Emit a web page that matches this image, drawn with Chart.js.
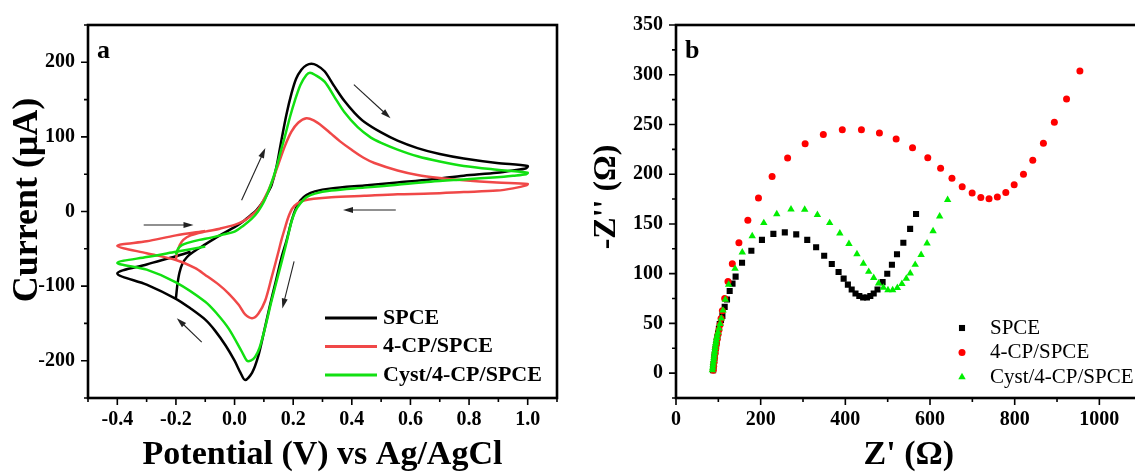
<!DOCTYPE html>
<html>
<head>
<meta charset="utf-8">
<script src="https://cdn.jsdelivr.net/npm/chart.js@4.4.0/dist/chart.umd.min.js"></script>
<style>
  html, body { margin: 0; padding: 0; background: #fff; }
  body { width: 1135px; height: 472px; overflow: hidden; position: relative; }
  #cv { position: absolute; left: 0; top: 0; }
  #eis { position: absolute; left: 580px; top: 0; }
</style>
</head>
<body>
<canvas id="cv" width="575" height="472"></canvas>
<canvas id="eis" width="566" height="472"></canvas>
<script>
const seriesNames = ["SPCE", "4-CP/SPCE", "Cyst/4-CP/SPCE"];

// panel a: cyclic voltammograms, potential (V) and current (uA)
const spceV = [-0.2, -0.195, -0.188, -0.178, -0.162, -0.14, -0.1, -0.05, 0, 0.03, 0.055, 0.075, 0.095, 0.112, 0.126, 0.143, 0.16, 0.177, 0.194, 0.21, 0.228, 0.245, 0.262, 0.28, 0.307, 0.34, 0.375, 0.41, 0.443, 0.5, 0.556, 0.624, 0.7, 0.782, 0.895, 1.0,
  0.995, 0.95, 0.895, 0.782, 0.669, 0.556, 0.443, 0.33, 0.274, 0.245, 0.225, 0.21, 0.195, 0.178, 0.16, 0.138, 0.12, 0.1, 0.08, 0.06, 0.036, 0.02, 0, -0.03, -0.066, -0.1, -0.15, -0.2, -0.3, -0.4,
  -0.3, -0.2, -0.15];
const spceI = [-116, -98, -82, -70, -61, -54, -44, -32, -21, -13, -5, 2, 12, 24, 35, 60, 96, 130, 158, 178, 190, 196, 198, 196, 188, 168, 148, 132, 120, 106, 95, 85, 77, 71, 65, 61,
  58, 55, 52, 48, 43, 39, 35, 31, 27, 22, 15, 5, -12, -38, -62, -98, -127, -162, -195, -216, -226, -216, -200, -180, -160, -145, -130, -117, -98, -83,
  -71, -60, -54];

const cpV = [-0.2, -0.195, -0.187, -0.175, -0.15, -0.1, -0.05, 0, 0.03, 0.055, 0.08, 0.104, 0.126, 0.15, 0.172, 0.194, 0.217, 0.245, 0.27, 0.3, 0.33, 0.36, 0.398, 0.44, 0.477, 0.556, 0.624, 0.7, 0.782, 0.895, 1.0,
  0.995, 0.95, 0.895, 0.782, 0.669, 0.556, 0.443, 0.33, 0.27, 0.24, 0.215, 0.197, 0.183, 0.172, 0.16, 0.149, 0.126, 0.104, 0.081, 0.06, 0.036, 0.014, -0.02, -0.054, -0.1, -0.134, -0.2, -0.3, -0.4,
  -0.3, -0.2, -0.1];
const cpI = [-64, -54, -45, -38, -32, -27, -23, -18, -13, -6, 3, 19, 38, 64, 88, 107, 119, 125, 122, 114, 104, 94, 83, 72, 65, 55, 49, 45, 42, 39, 37,
  35, 31, 28, 26, 24, 23, 21, 19, 17, 15, 11, 4, -8, -22, -38, -55, -89, -120, -137, -143, -138, -125, -110, -98, -85, -76, -65, -56, -46,
  -40, -32, -26];

const cystV = [-0.2, -0.193, -0.18, -0.16, -0.12, -0.08, -0.04, 0, 0.03, 0.058, 0.08, 0.1, 0.12, 0.14, 0.157, 0.172, 0.19, 0.206, 0.225, 0.245, 0.257, 0.275, 0.307, 0.34, 0.375, 0.42, 0.465, 0.5, 0.556, 0.624, 0.7, 0.782, 0.895, 1.0,
  0.995, 0.95, 0.895, 0.782, 0.669, 0.556, 0.443, 0.33, 0.274, 0.245, 0.225, 0.208, 0.194, 0.172, 0.149, 0.126, 0.104, 0.085, 0.07, 0.055, 0.042, 0.025, -0.02, -0.06, -0.1, -0.2, -0.3, -0.4,
  -0.3, -0.2, -0.1];
const cystI = [-58, -50, -45, -42, -38, -35, -31, -27, -19, -10, 0, 13, 32, 55, 80, 101, 128, 149, 170, 183, 186, 183, 174, 154, 133, 113, 99, 92, 83, 74, 67, 61, 56, 52,
  50, 48, 46, 43, 40, 36, 32, 28, 24, 19, 11, 1, -14, -50, -85, -120, -156, -183, -195, -200, -200, -188, -157, -137, -121, -95, -78, -69,
  -61, -54, -47];

const cvXTicks = [-0.4, -0.2, 0.0, 0.2, 0.4, 0.6, 0.8, 1.0];
const cvYTicks = [-200, -100, 0, 100, 200];
// scan direction arrows [x1, y1, x2, y2] in data units
const cvArrows = [[-0.31, -18, -0.14, -18], [0.024, 15, 0.105, 85], [0.407, 170, 0.532, 125],
  [0.55, 2, 0.37, 2], [0.203, -67, 0.163, -130], [-0.112, -175, -0.197, -143]];

// panel b: Nyquist plots, Z' and -Z'' (ohm)
const spceRe = [87.6, 88.3, 89, 89.8, 90.6, 91.5, 92.5, 93.6, 94.8, 96.2, 97.7, 99.3, 101.3, 103.3, 106.3, 109.6, 115, 120.5, 126.8, 133.5, 140.8, 156, 178, 203, 230, 257, 284, 310, 331, 350, 368, 384, 396, 406, 415, 424, 433, 442, 451, 459, 467, 476, 488, 499, 510, 522, 537, 553, 567];
const spceIm = [3, 6, 9, 12, 15, 18, 21.5, 25, 28.5, 32, 36, 40, 44.5, 49.4, 53.5, 57.6, 66.6, 74, 82.5, 90, 97, 111, 123, 134, 140, 141.5, 139.5, 134, 126.5, 118, 109.7, 101.7, 95, 89, 84, 80, 77.5, 76, 76, 77.5, 80, 84, 91.5, 100, 109, 119.5, 131, 145, 160];
const cpRe = [88, 89, 90, 91.2, 92.5, 94, 95.5, 97.2, 99.4, 101.6, 104, 106.5, 109.5, 115, 122.8, 133, 148.6, 169.7, 194.8, 227, 263.6, 305, 348, 392.8, 438, 480.5, 520, 558.7, 594.7, 625, 651.8, 676, 699.5, 720, 739.4, 759, 779, 798.8, 820.7, 842.7, 867.8, 893.7, 922.5, 954];
const cpIm = [3, 7, 11, 15.5, 20, 24.5, 29, 34, 39, 43.5, 48.7, 55, 62.6, 75, 92, 110, 131, 153.7, 176, 197.8, 216.3, 230.5, 239.8, 244.7, 244.7, 241.4, 235.4, 226.5, 216.6, 206, 196, 187.5, 181.2, 176.6, 175.3, 177, 181.6, 189.5, 200, 214, 231, 252.3, 275.5, 303.7];
const cystRe = [86, 86.7, 87.4, 88.1, 88.8, 89.5, 90.2, 90.9, 91.6, 92.4, 93.2, 94.1, 95.1, 96.2, 97.5, 99.2, 101.5, 104, 107, 111, 116.6, 124.4, 139.5, 156.5, 180, 207.4, 238, 271.6, 304, 334, 363, 387, 408.5, 427.4, 442.6, 455.2, 467, 478.6, 489.9, 500.7, 511.7, 522.8, 533.6, 544, 553.3, 565, 579, 593, 607.2, 622.8, 641.6];
const cystIm = [3, 5.5, 8, 10.5, 13, 15.5, 18, 20.5, 23, 25.5, 28, 30.5, 33, 35.5, 38, 41, 45, 49.5, 55, 63, 74, 89, 105, 121.5, 137.8, 151, 160, 164.7, 164.5, 159.2, 151, 140.6, 130, 119.6, 110.2, 102, 95.8, 90.3, 86, 83.5, 83.5, 85.8, 89.8, 95, 100.4, 109, 119, 130.5, 142.8, 157.7, 174.3];

const eisXTicks = [0, 200, 400, 600, 800, 1000];
const eisYTicks = [0, 50, 100, 150, 200, 250, 300, 350];

const serif = "'Liberation Serif', 'Times New Roman', serif";
Chart.defaults.font.family = serif;
Chart.defaults.color = '#000';

const zip = (xs, ys) => xs.map((x, i) => ({ x: x, y: ys[i] }));

function minors(major, lo, hi) {
  const step = major[1] - major[0];
  const out = [];
  for (let v = major[0] - step / 2; v <= hi + 1e-9; v += step) {
    if (v >= lo - 1e-9) out.push(v);
  }
  return out;
}

function drawMarker(ctx, style, r, x, y) {
  ctx.beginPath();
  if (style === 'rect') {
    const s = Math.SQRT1_2 * r;
    ctx.rect(x - s, y - s, 2 * s, 2 * s);
  } else if (style === 'triangle') {
    ctx.moveTo(x, y - r);
    ctx.lineTo(x + r * 0.866, y + r / 2);
    ctx.lineTo(x - r * 0.866, y + r / 2);
    ctx.closePath();
  } else {
    ctx.arc(x, y, r, 0, Math.PI * 2);
  }
  ctx.fill();
}

// frame, major/minor ticks, y title, panel letter, arrows and legend
function decor(cfg) {
  return {
    id: 'decor',
    afterDatasetsDraw(chart) {
      const ctx = chart.ctx, a = chart.chartArea;
      const xs = chart.scales.x, ys = chart.scales.y;
      ctx.save();
      ctx.strokeStyle = '#000';
      ctx.fillStyle = '#000';
      ctx.lineWidth = 1.6;
      ctx.beginPath();
      cfg.xTicks.forEach(v => { const p = xs.getPixelForValue(v); ctx.moveTo(p, a.bottom); ctx.lineTo(p, a.bottom + 7); });
      minors(cfg.xTicks, xs.min, xs.max).forEach(v => { const p = xs.getPixelForValue(v); ctx.moveTo(p, a.bottom); ctx.lineTo(p, a.bottom + 4); });
      cfg.yTicks.forEach(v => { const p = ys.getPixelForValue(v); ctx.moveTo(a.left, p); ctx.lineTo(a.left - 7, p); });
      minors(cfg.yTicks, ys.min, ys.max).forEach(v => { const p = ys.getPixelForValue(v); ctx.moveTo(a.left, p); ctx.lineTo(a.left - 4, p); });
      ctx.stroke();
      ctx.lineWidth = 2.6;
      ctx.strokeRect(a.left, a.top, a.right - a.left, a.bottom - a.top);

      // y axis title, a little above the axis middle as in the source figure
      ctx.save();
      ctx.translate(cfg.yTitle.x, cfg.yTitle.y);
      ctx.rotate(-Math.PI / 2);
      ctx.font = cfg.yTitle.font;
      ctx.textAlign = 'center';
      ctx.textBaseline = 'middle';
      ctx.fillText(cfg.yTitle.text, 0, 0);
      ctx.restore();

      ctx.font = 'bold 26px ' + serif;
      ctx.textBaseline = 'alphabetic';
      ctx.fillText(cfg.letter, a.left + 9, a.top + 33);

      if (cfg.arrows) {
        ctx.lineWidth = 1.1;
        ctx.strokeStyle = '#222';
        ctx.fillStyle = '#222';
        cfg.arrows.forEach(ar => {
          const x1 = xs.getPixelForValue(ar[0]), y1 = ys.getPixelForValue(ar[1]);
          const x2 = xs.getPixelForValue(ar[2]), y2 = ys.getPixelForValue(ar[3]);
          const ang = Math.atan2(y2 - y1, x2 - x1), c = Math.cos(ang), s = Math.sin(ang);
          const h = 10, w = 3;
          ctx.beginPath();
          ctx.moveTo(x1, y1);
          ctx.lineTo(x2 - h * 0.7 * c, y2 - h * 0.7 * s);
          ctx.stroke();
          ctx.beginPath();
          ctx.moveTo(x2, y2);
          ctx.lineTo(x2 - h * c + w * s, y2 - h * s - w * c);
          ctx.lineTo(x2 - h * c - w * s, y2 - h * s + w * c);
          ctx.closePath();
          ctx.fill();
        });
      }

      const L = cfg.legend;
      ctx.font = L.font;
      ctx.textBaseline = 'middle';
      chart.data.datasets.forEach((ds, i) => {
        const y = L.y + i * L.dy;
        if (L.lines) {
          ctx.strokeStyle = ds.borderColor;
          ctx.lineWidth = 3;
          ctx.beginPath();
          ctx.moveTo(L.x, y);
          ctx.lineTo(L.x + L.len, y);
          ctx.stroke();
        } else {
          ctx.fillStyle = ds.backgroundColor;
          drawMarker(ctx, ds.pointStyle, ds.pointRadius, L.x, y);
        }
        ctx.fillStyle = '#000';
        ctx.fillText(ds.label, L.textX, y);
      });
      ctx.restore();
    }
  };
}

function scaleOpts(min, max, ticks, fmt, title, fitSize, horizontal) {
  const o = {
    type: 'linear', min: min, max: max,
    grid: { display: false, drawTicks: false },
    border: { display: false },
    afterBuildTicks: s => { s.ticks = ticks.map(v => ({ value: v })); },
    ticks: { padding: horizontal ? 10 : 13, color: '#000', font: { size: 20, weight: 'bold' },
      maxRotation: 0, autoSkip: false, callback: fmt }
  };
  if (horizontal) {
    o.afterFit = s => { s.height = fitSize; };
    o.title = { display: true, text: title, color: '#000',
      font: { size: 34, weight: 'bold', lineHeight: 1 }, padding: { top: 0, bottom: 0 } };
  } else {
    o.afterFit = s => { s.width = fitSize; };
  }
  return o;
}

const cvColors = ['#000000', '#f04848', '#12e012'];
const cvData = [zip(spceV, spceI), zip(cpV, cpI), zip(cystV, cystI)];

new Chart(document.getElementById('cv'), {
  type: 'scatter',
  data: {
    datasets: cvData.map((d, i) => ({
      label: seriesNames[i],
      data: d,
      showLine: true,
      borderColor: cvColors[i],
      backgroundColor: cvColors[i],
      borderWidth: 2.5,
      pointRadius: 0,
      tension: 0.3,
      order: 2 - i
    }))
  },
  options: {
    responsive: false,
    animation: false,
    events: [],
    layout: { padding: { left: 0, right: 18, top: 20, bottom: 0 } },
    plugins: { legend: { display: false }, tooltip: { enabled: false } },
    scales: {
      x: scaleOpts(-0.5, 1.1, cvXTicks, v => v.toFixed(1), 'Potential (V) vs Ag/AgCl', 74, true),
      y: scaleOpts(-250, 250, cvYTicks, v => String(v), null, 88, false)
    }
  },
  plugins: [decor({
    xTicks: cvXTicks, yTicks: cvYTicks, letter: 'a', arrows: cvArrows,
    yTitle: { text: 'Current (\u03bcA)', x: 28, y: 200, font: 'bold 36px ' + serif },
    legend: { lines: true, x: 325, len: 52, textX: 383, y: 318, dy: 28.5, font: 'bold 22px ' + serif }
  })]
});

const eisColors = ['#000000', '#ff0000', '#00ee00'];
const eisStyles = ['rect', 'circle', 'triangle'];
const eisRadius = [4.3, 3.5, 4.3];
const eisData = [zip(spceRe, spceIm), zip(cpRe, cpIm), zip(cystRe, cystIm)];

new Chart(document.getElementById('eis'), {
  type: 'scatter',
  data: {
    datasets: eisData.map((d, i) => ({
      label: seriesNames[i],
      data: d,
      showLine: false,
      pointStyle: eisStyles[i],
      pointRadius: eisRadius[i],
      borderWidth: 0,
      borderColor: eisColors[i],
      backgroundColor: eisColors[i],
      order: 2 - i
    }))
  },
  options: {
    responsive: false,
    animation: false,
    events: [],
    layout: { padding: { left: 0, right: 1, top: 20, bottom: 0 } },
    plugins: { legend: { display: false }, tooltip: { enabled: false } },
    scales: {
      x: scaleOpts(0, 1100, eisXTicks, v => String(v), "Z' (\u03a9)", 74, true),
      y: scaleOpts(-25, 350, eisYTicks, v => String(v), null, 96, false)
    }
  },
  plugins: [decor({
    xTicks: eisXTicks, yTicks: eisYTicks, letter: 'b',
    yTitle: { text: "-Z'' (\u03a9)", x: 27, y: 197, font: 'bold 32px ' + serif },
    legend: { lines: false, x: 382, textX: 410, y: 328, dy: 24.5, font: '21px ' + serif }
  })]
});
</script>
</body>
</html>
